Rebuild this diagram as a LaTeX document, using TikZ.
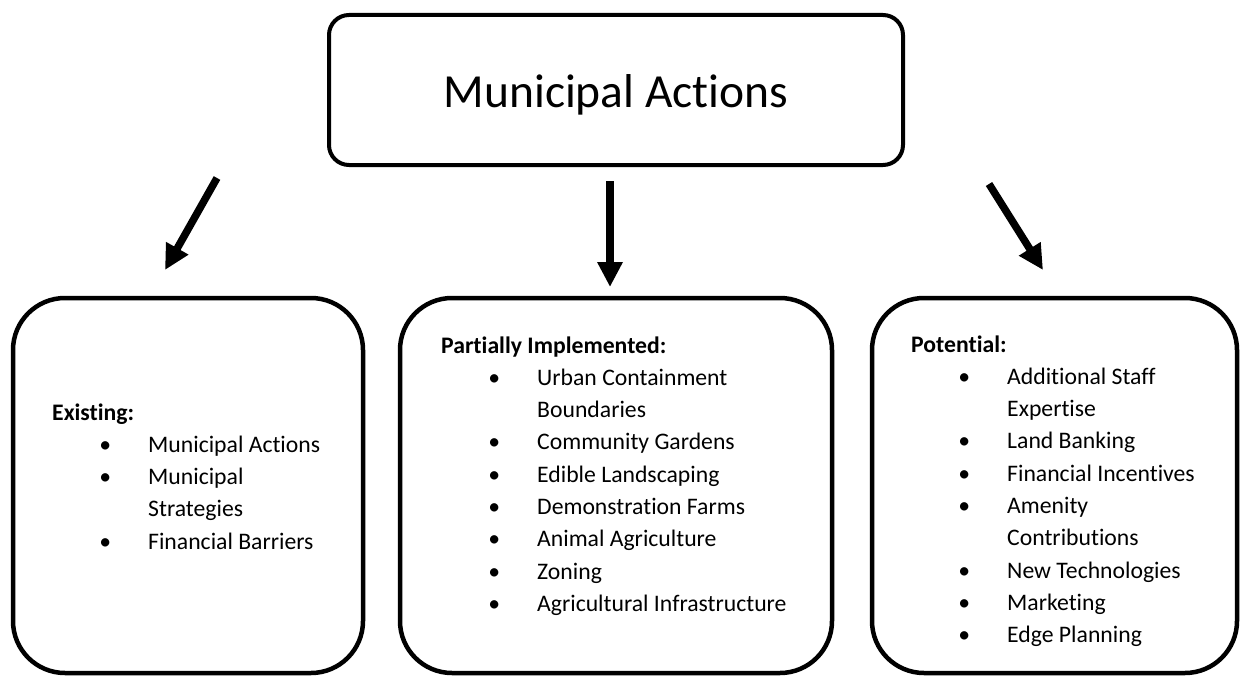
\documentclass[tikz,border=0pt]{standalone}
\usepackage{fontspec}
\setmainfont[Ligatures=NoCommon]{Carlito}
\usetikzlibrary{arrows.meta}

\newcommand{\blitem}[1]{\\\hspace*{44pt}\makebox[18pt]{\textbullet}\hspace*{34pt}#1}
\newcommand{\blcont}[1]{\\\hspace*{96pt}#1}

\begin{document}
\begin{tikzpicture}[x=1pt, y=-1pt,
  box/.style={draw, line width=4.5pt, rounded corners=52pt, inner sep=0pt, minimum height=375pt},
  topbox/.style={draw, line width=4pt, rounded corners=20pt, inner sep=0pt,
    minimum width=574pt, minimum height=150pt,
    font=\fontsize{47.5}{56}\selectfont, text height=34pt, text depth=0pt},
  list/.style={anchor=base west, inner sep=0pt, font=\fontsize{23.7}{32.3}\selectfont},
  bigarrow/.style={line width=7.5pt, -{Triangle[width=24pt,length=25pt]}}]
\useasboundingbox (0,0) rectangle (1240,677);

\node[topbox] (top) at (616,90) {Municipal Actions};

\node[box, minimum width=350pt] (existing) at (188,485.5) {};
\node[box, minimum width=432pt] (partial) at (616,485.5) {};
\node[box, minimum width=365pt] (potential) at (1054.5,485.5) {};

% lists
\node[list] (existing-txt) at (52,420) {\parbox[t]{380pt}{\textbf{Existing:}%
  \blitem{Municipal Actions}\blitem{Municipal}\blcont{Strategies}%
  \blitem{Financial Barriers}}};
\node[list] (partial-txt) at (441,353) {\parbox[t]{380pt}{\textbf{Partially Implemented:}%
  \blitem{Urban Containment}\blcont{Boundaries}\blitem{Community Gardens}%
  \blitem{Edible Landscaping}\blitem{Demonstration Farms}%
  \blitem{Animal Agriculture}\blitem{Zoning}\blitem{Agricultural Infrastructure}}};
\node[list] (potential-txt) at (911,352) {\parbox[t]{380pt}{\textbf{Potential:}%
  \blitem{Additional Staff}\blcont{Expertise}\blitem{Land Banking}%
  \blitem{Financial Incentives}\blitem{Amenity}\blcont{Contributions}%
  \blitem{New Technologies}\blitem{Marketing}\blitem{Edge Planning}}};

% arrows
\foreach \sx/\sy/\ex/\ey [count=\i] in {217/178/165/270, 610/181/610/287, 989/184/1043/270} {
  \coordinate (from\i) at (\sx,\sy);
  \coordinate (to\i) at (\ex,\ey);
  \draw[bigarrow] (from\i) -- (to\i);
}
\end{tikzpicture}
\end{document}
